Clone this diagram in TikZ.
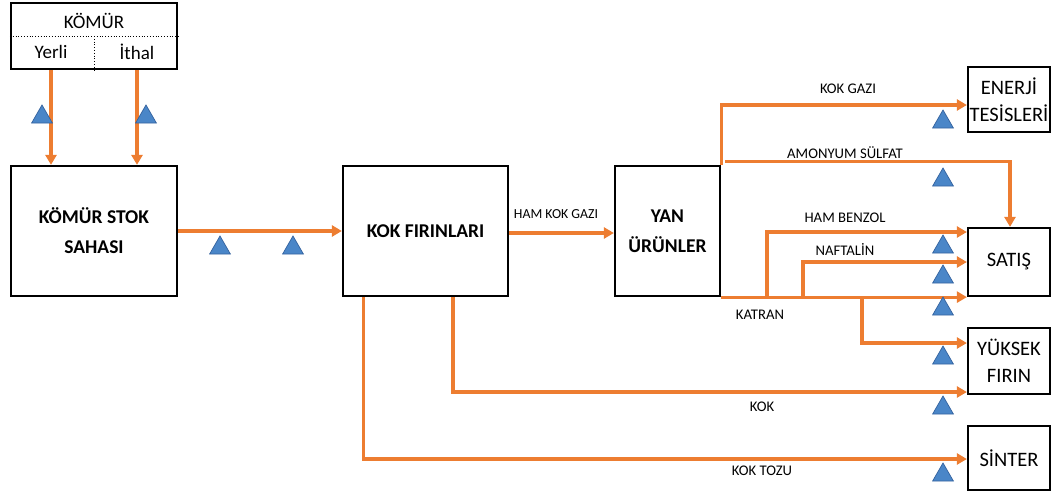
\documentclass[tikz,border=0pt]{standalone}
\usepackage{fontspec}
\setmainfont{Carlito}
\usetikzlibrary{arrows.meta,shapes.geometric}
\definecolor{orng}{RGB}{237,125,49}
\definecolor{triblue}{RGB}{74,134,200}
\definecolor{tridark}{RGB}{52,98,158}
\begin{document}
\begin{tikzpicture}[x=1pt,y=-1pt,
  box/.style={draw, line width=2.2pt, align=center, inner sep=0pt},
  flow/.style={draw=orng, line width=3.1pt, -{Triangle[length=10pt,width=11pt]}},
  tri/.style={regular polygon, regular polygon sides=3, fill=triblue, draw=tridark, line width=0.7pt, minimum size=24pt, inner sep=0pt},
  lbl/.style={font=\fontsize{14.7}{17}\selectfont},
  big/.style={font=\fontsize{20.5}{27}\selectfont},
  small/.style={font=\fontsize{19}{21}\selectfont},
  bigbold/.style={font=\bfseries\fontsize{19.5}{30}\selectfont}]
\useasboundingbox (0,0) rectangle (1060,495);
% boxes
\node[box, minimum width=166pt, minimum height=66pt] (komur) at (94,36) {};
\node[small] (komurt) at (94,21) {KÖMÜR};
\node[small] (yerli) at (51,52) {Yerli};
\node[small] (ithal) at (137,52) {İthal};
\draw[dotted, line width=0.8pt] (komur.west) -- (komur.east);
\draw[dotted, line width=0.8pt] (komur.center) -- (komur.south);
\node[box, bigbold, minimum width=166pt, minimum height=130pt] (stok) at (94,231) {KÖMÜR STOK\\SAHASI};
\node[box, bigbold, minimum width=165pt, minimum height=130pt] (kok) at (425.5,231) {KOK FIRINLARI};
\node[box, bigbold, minimum width=105pt, minimum height=130pt] (yan) at (667.5,231) {YAN\\ÜRÜNLER};
\node[box, big, minimum width=82pt, minimum height=65pt] (en) at (1009,99.5) {ENERJİ\\TESİSLERİ};
\node[box, big, minimum width=82pt, minimum height=68pt] (satis) at (1009,262) {SATIŞ};
\node[box, big, minimum width=82pt, minimum height=66pt] (yuksek) at (1009,361) {YÜKSEK\\FIRIN};
\node[box, big, minimum width=82pt, minimum height=64pt] (sinter) at (1009,458) {SİNTER};
% level coordinates
\coordinate (ykg) at (0,105);
\coordinate (yhb) at (0,232);
\coordinate (yyk) at (0,343);
\coordinate (ykok) at (0,392);
\coordinate (ytoz) at (0,459);
\coordinate (b1) at (767,296);
\coordinate (b2) at (803,296);
\coordinate (b3) at (862,296);
% connectors
\draw[flow] (yerli |- komur.south) -- (yerli |- stok.north);
\draw[flow] (ithal |- komur.south) -- (ithal |- stok.north);
\draw[flow] (stok.east) -- (kok.west);
\draw[flow] ([yshift=-2pt]kok.east) -- ([yshift=-2pt]yan.west);
\draw[flow] (yan.north east) |- (en.west |- ykg);
\draw[flow] ([xshift=4pt,yshift=3pt]yan.north east) -| ([xshift=1pt]satis.north);
\draw[flow] (yan.south east) -- (yan.south east -| satis.west);
\draw[flow] (b1) |- (satis.west |- yhb);
\draw[flow] (b2) |- (satis.west);
\draw[flow] (b3) |- (yuksek.west |- yyk);
\draw[flow] ([xshift=27.5pt]kok.south) |- (yuksek.west |- ykok);
\draw[flow] ([xshift=-62pt]kok.south) |- (sinter.west |- ytoz);
% labels
\node[lbl, font=\fontsize{13.8}{16}\selectfont] (l1) at (556,214) {HAM KOK GAZI};
\node[lbl] (l2) at (848,89) {KOK GAZI};
\node[lbl] (l3) at (845,153) {AMONYUM SÜLFAT};
\node[lbl] (l4) at (845,218) {HAM BENZOL};
\node[lbl] (l5) at (845,250) {NAFTALİN};
\node[lbl] (l6) at (760,315) {KATRAN};
\node[lbl] (l7) at (762,407) {KOK};
\node[lbl] (l8) at (762,471) {KOK TOZU};
% triangles
\node[tri] (t1) at (42,117) {};
\node[tri] (t2) at (146,117) {};
\node[tri] (t3) at (220,248) {};
\node[tri] (t4) at (293,248) {};
\node[tri] (t5) at (943,122) {};
\node[tri] (t6) at (943,180) {};
\node[tri] (t7) at (943,247) {};
\node[tri] (t8) at (943,277) {};
\node[tri] (t9) at (943,309) {};
\node[tri] (t10) at (943,358) {};
\node[tri] (t11) at (943,408) {};
\node[tri] (t12) at (943,475) {};
\end{tikzpicture}
\end{document}
